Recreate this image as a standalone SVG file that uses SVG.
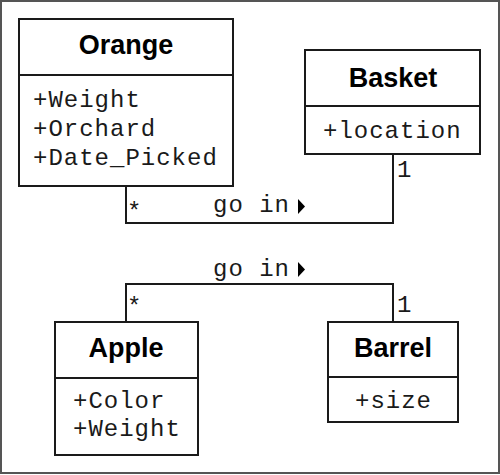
<svg xmlns="http://www.w3.org/2000/svg" width="500" height="475" viewBox="0 0 500 475">
<style>
.box{fill:#fff;stroke:#1a1a1a;stroke-width:2}
.ln{fill:none;stroke:#1a1a1a;stroke-width:2}
.t{font-family:"Liberation Sans",Arial,sans-serif;font-weight:bold;font-size:27px;fill:#000;text-anchor:middle}
.a{font-family:"Liberation Mono","Courier New",monospace;font-size:24px;letter-spacing:1px;fill:#1a1a1a}
</style>
<rect x="1" y="1" width="498" height="472" fill="#fff" stroke="#555" stroke-width="2"/>
<g id="connectors">
<polyline class="ln" points="126,186 126,223 393,223 393,154"/>
<text class="a" x="127" y="219">*</text>
<text class="a" x="397" y="177">1</text>
<text class="a" x="213" y="212">go in</text>
<polygon points="298,199 305,206.5 298,214" fill="#000"/>
<polyline class="ln" points="126,322 126,284 393,284 393,322"/>
<text class="a" x="127" y="314">*</text>
<text class="a" x="397" y="312">1</text>
<text class="a" x="213" y="276">go in</text>
<polygon points="298,262 305,269.5 298,277" fill="#000"/>
</g>
<g id="orange">
<rect class="box" x="19" y="19" width="214" height="167"/>
<line class="ln" x1="19" y1="75" x2="233" y2="75"/>
<text class="t" x="126" y="54">Orange</text>
<text class="a" x="33" y="107">+Weight</text>
<text class="a" x="33" y="136">+Orchard</text>
<text class="a" x="33" y="165">+Date_Picked</text>
</g>
<g id="basket">
<rect class="box" x="305" y="50" width="175" height="104"/>
<line class="ln" x1="305" y1="106" x2="480" y2="106"/>
<text class="t" x="393" y="87">Basket</text>
<text class="a" x="323" y="138">+location</text>
</g>
<g id="apple">
<rect class="box" x="55" y="322" width="143" height="133"/>
<line class="ln" x1="55" y1="378" x2="198" y2="378"/>
<text class="t" x="126" y="357">Apple</text>
<text class="a" x="73" y="408">+Color</text>
<text class="a" x="73" y="436">+Weight</text>
</g>
<g id="barrel">
<rect class="box" x="328" y="322" width="130" height="100"/>
<line class="ln" x1="328" y1="377" x2="458" y2="377"/>
<text class="t" x="393" y="357">Barrel</text>
<text class="a" x="355" y="408">+size</text>
</g>
</svg>
